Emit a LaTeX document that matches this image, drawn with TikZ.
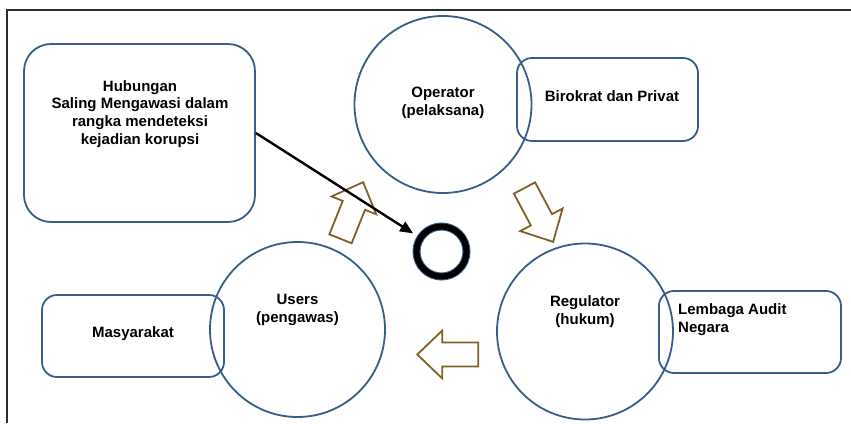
\documentclass[tikz,border=0pt]{standalone}
\usepackage{fontspec}
\setmainfont{Liberation Sans}
\usetikzlibrary{arrows.meta}
\definecolor{ringblue}{RGB}{56,93,138}
\definecolor{arrowbrown}{RGB}{128,98,40}
\definecolor{framegray}{RGB}{45,45,45}
\tikzset{
  role/.style={circle, draw=ringblue, line width=1.8pt, inner sep=0pt},
  tag/.style={rectangle, rounded corners=15pt, draw=ringblue, line width=1.8pt, inner sep=0pt},
  lbl/.style={inner sep=0pt, font=\fontsize{15}{18}\selectfont\bfseries, align=center},
  blockarrow/.pic={
    \draw[arrowbrown, line width=1.8pt, line join=miter, fill=white]
      (-12,0) -- (-12,-36) -- (-24,-36) -- (0,-61) -- (24,-36) -- (12,-36) -- (12,0) -- cycle;
  }
}
\begin{document}
\begin{tikzpicture}[x=1pt, y=-1pt]
  \fill[white] (0,0) rectangle (851,423);
  \useasboundingbox (0,0) rectangle (851,423);
  % page frame
  \draw[framegray, line width=2pt] (851,10) -- (7,10) -- (7,423);

  % boxes
  \node[tag, rounded corners=27pt, minimum width=231pt, minimum height=178pt] (hub) at (139.5,133) {};
  \node[tag, minimum width=181pt, minimum height=83pt] (biro) at (607.5,99.5) {};
  \node[tag, minimum width=182pt, minimum height=82pt] (masy) at (133,336) {};
  \node[tag, minimum width=182pt, minimum height=82pt] (lemb) at (750,332) {};

  % role circles
  \node[role, minimum size=177pt] (oper) at (443,104.5) {};
  \node[role, minimum size=175pt] (users) at (297.5,329.5) {};
  \node[role, minimum size=176pt] (regu) at (585,331.5) {};

  % texts
  \node[lbl, font=\fontsize{15}{17.8}\selectfont\bfseries] (hubtxt) at (140,114)
    {Hubungan\\Saling Mengawasi dalam\\rangka mendeteksi\\kejadian korupsi};
  \node[lbl] (opertxt) at (443,103) {Operator\\(pelaksana)};
  \node[lbl] (userstxt) at (297.5,310) {Users\\(pengawas)};
  \node[lbl] (regutxt) at (585,312) {Regulator\\(hukum)};
  \node[lbl, anchor=base] (birotxt) at (612,101.5) {Birokrat dan Privat};
  \node[lbl, anchor=base] (masytxt) at (133,337) {Masyarakat};
  \node[lbl, align=left, anchor=west] (lembtxt) at (678,320) {Lembaga Audit\\Negara};

  % cycle of block arrows
  \pic[rotate=-21.8] at (340.5,238.8) {blockarrow};
  \pic[rotate=-152] at (524.5,188) {blockarrow};
  \pic[rotate=90] at (478.3,354.5) {blockarrow};

  % centre ring
  \node[circle, minimum size=57pt, inner sep=0pt] (ring) at (441.5,251.5) {};
  \draw[ringblue, line width=8pt] (ring.center) circle[radius=25pt];
  \draw[black, line width=6pt] (ring.center) circle[radius=25pt];

  % pointer from the description box to the ring
  \draw[black, line width=2.4pt, -{Triangle[length=13pt,width=11pt]}, shorten >=5pt]
    (hub.east) -- (ring);
\end{tikzpicture}
\end{document}
